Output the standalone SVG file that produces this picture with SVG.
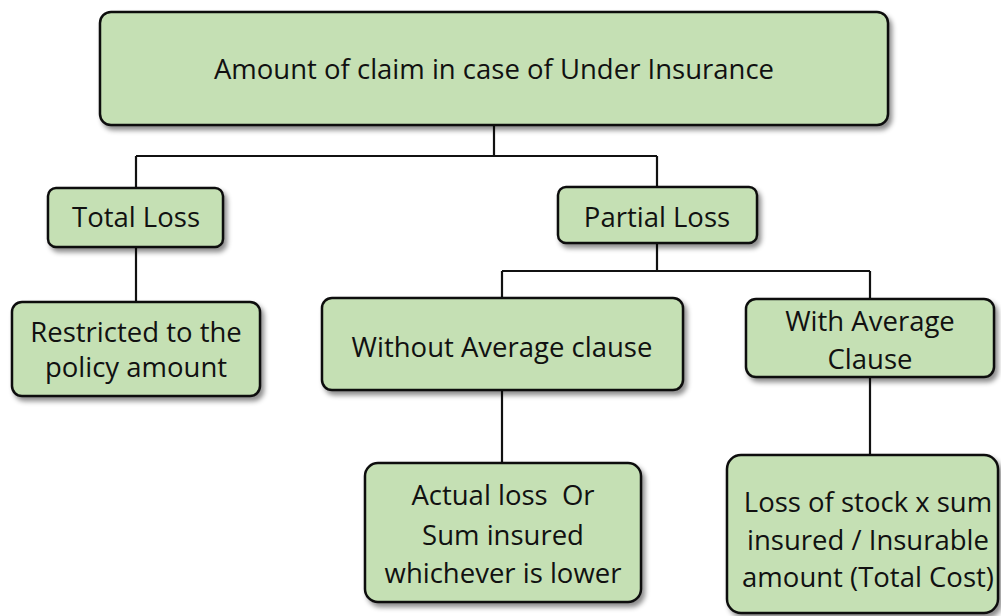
<svg xmlns="http://www.w3.org/2000/svg" width="1001" height="616" viewBox="0 0 1001 616">
<defs>
<filter id="sh" x="-10%" y="-10%" width="130%" height="140%">
<feDropShadow dx="3" dy="4" stdDeviation="2.5" flood-color="#000" flood-opacity="0.45"/>
</filter>
</defs>
<style>
.box{fill:#c5e0b4;stroke:#111;stroke-width:2.5;filter:url(#sh)}
.t{font-family:"Open Sans","Noto Sans",sans-serif;font-size:27.5px;fill:#111;text-anchor:middle}
.c{fill:none;stroke:#111;stroke-width:2.2}
</style>
<g id="connectors">
<path class="c" d="M494 126V156M136 156H657M136 156V188M657 156V187"/>
<path class="c" d="M136 246V302"/>
<path class="c" d="M657 243V271M502 271H870M502 271V298M870 271V299"/>
<path class="c" d="M502 390V463"/>
<path class="c" d="M870 377V455"/>
</g>
<g id="n-top">
<rect class="box" x="100" y="12" width="788" height="113" rx="11"/>
<text class="t" x="494" y="79">Amount of claim in case of Under Insurance</text>
</g>
<g id="n-total">
<rect class="box" x="48" y="188" width="175" height="59" rx="8"/>
<text class="t" x="136" y="227">Total Loss</text>
</g>
<g id="n-partial">
<rect class="box" x="558" y="187" width="199" height="56" rx="8"/>
<text class="t" x="657" y="227">Partial Loss</text>
</g>
<g id="n-restricted">
<rect class="box" x="12" y="302" width="248" height="94" rx="10"/>
<text class="t" x="136" y="342">Restricted to the</text>
<text class="t" x="136" y="377">policy amount</text>
</g>
<g id="n-without">
<rect class="box" x="322" y="298" width="361" height="92" rx="10"/>
<text class="t" x="502" y="357">Without Average clause</text>
</g>
<g id="n-with">
<rect class="box" x="746" y="299" width="248" height="78" rx="10"/>
<text class="t" x="870" y="331">With Average</text>
<text class="t" x="870" y="369">Clause</text>
</g>
<g id="n-actual">
<rect class="box" x="365" y="463" width="276" height="139" rx="13"/>
<text class="t" x="503" y="505" xml:space="preserve">Actual loss  Or</text>
<text class="t" x="503" y="545">Sum insured</text>
<text class="t" x="503" y="583">whichever is lower</text>
</g>
<g id="n-loss">
<rect class="box" x="727" y="455" width="271" height="158" rx="14"/>
<text class="t" x="868" y="512">Loss of stock x sum</text>
<text class="t" x="868" y="550">insured / Insurable</text>
<text class="t" x="868" y="587">amount (Total Cost)</text>
</g>
</svg>
